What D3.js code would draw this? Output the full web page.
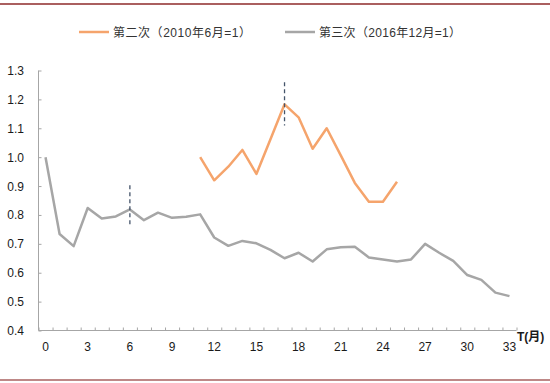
<!DOCTYPE html>
<html>
<head>
<meta charset="utf-8">
<script src="https://cdn.jsdelivr.net/npm/d3@7/dist/d3.min.js"></script>
<style>
  html, body { margin: 0; padding: 0; background: #fff; }
  svg { display: block; }
  text { font-family: "Liberation Sans", Arial, "Noto Sans CJK SC", sans-serif; }
</style>
</head>
<body>
<svg id="chart" width="550" height="383"></svg>
<script>
// ---- data ----
const months = d3.range(0, 34);
const xTickLabels = [0, 3, 6, 9, 12, 15, 18, 21, 24, 27, 30, 33];
const yTickValues = [0.4, 0.5, 0.6, 0.7, 0.8, 0.9, 1.0, 1.1, 1.2, 1.3];

const seriesNames = ["第二次（2010年6月=1）", "第三次（2016年12月=1）"];

// second round, months 11..25
const secondStart = 11;
const secondValues = [1.00, 0.92, 0.967, 1.025, 0.942, 1.062, 1.183, 1.138, 1.029, 1.10, 1.006, 0.911, 0.846, 0.846, 0.915];

// third round, months 0..33
const thirdValues = [1.00, 0.734, 0.692, 0.824, 0.788, 0.795, 0.819, 0.782, 0.808, 0.790, 0.794, 0.802,
  0.722, 0.693, 0.710, 0.702, 0.679, 0.650, 0.669, 0.639, 0.681, 0.688, 0.690, 0.653,
  0.646, 0.639, 0.646, 0.700, 0.669, 0.641, 0.592, 0.575, 0.531, 0.519];

// dashed marker lines: month, low value, high value
const markerMonths = [6, 17];
const markerLow = [0.757, 1.11];
const markerHigh = [0.903, 1.259];

// ---- drawing ----
const svg = d3.select("#chart");
const colors = ["#F5A46C", "#A6A6A6"];

const x = d3.scaleLinear().domain([-0.5, 33.5]).range([38.5, 516.5]);
const y = d3.scaleLinear().domain([0.4, 1.3]).range([330.5, 70.5]);

// frame lines
svg.append("line").attr("x1", 0).attr("x2", 550).attr("y1", 4).attr("y2", 4)
  .attr("stroke", "#8E2A2A").attr("stroke-width", 1.6);
svg.append("line").attr("x1", 0).attr("x2", 550).attr("y1", 380).attr("y2", 380)
  .attr("stroke", "#A8615F").attr("stroke-width", 1.6);

// y axis
const yAxis = d3.axisRight(y).tickValues(yTickValues).tickSize(3).tickFormat("");
const gy = svg.append("g").attr("transform", "translate(38.5,0)").call(yAxis);
gy.select(".domain").attr("stroke", "#A6A6A6").attr("d", `M0,${y(1.3)}V${y(0.4)}`);
gy.selectAll(".tick line").attr("stroke", "#A6A6A6");

svg.append("g").selectAll("text").data(yTickValues).join("text")
  .attr("x", 24).attr("y", d => y(d) + 4.5)
  .attr("text-anchor", "end").attr("font-size", 12).attr("fill", "#1a1a1a")
  .text(d => d3.format(".1f")(d));

// x axis (ticks between categories)
const boundaries = d3.range(-0.5, 34, 1);
const xAxis = d3.axisTop(x).tickValues(boundaries).tickSize(3).tickFormat("");
const gx = svg.append("g").attr("transform", `translate(0,${y(0.4)})`).call(xAxis);
gx.select(".domain").attr("stroke", "#A6A6A6").attr("d", `M${x(-0.5)},0H${x(33.5)}`);
gx.selectAll(".tick line").attr("stroke", "#A6A6A6");

svg.append("g").selectAll("text").data(xTickLabels).join("text")
  .attr("x", d => x(d)).attr("y", 351)
  .attr("text-anchor", "middle").attr("font-size", 12).attr("fill", "#1a1a1a")
  .text(d => d);

svg.append("text").attr("x", 517).attr("y", 341)
  .attr("font-size", 12).attr("font-weight", "bold").attr("fill", "#1a1a1a")
  .text("T(月)");

// lines
const line = d3.line().x(d => x(d[0])).y(d => y(d[1]));
const thirdData = thirdValues.map((v, i) => [months[i], v]);
const secondData = secondValues.map((v, i) => [secondStart + i, v]);

svg.append("path").datum(thirdData).attr("d", line)
  .attr("fill", "none").attr("stroke", colors[1]).attr("stroke-width", 2.5)
  .attr("stroke-linejoin", "round");
svg.append("path").datum(secondData).attr("d", line)
  .attr("fill", "none").attr("stroke", colors[0]).attr("stroke-width", 2.5)
  .attr("stroke-linejoin", "round");

// dashed markers
svg.append("g").selectAll("line").data(markerMonths).join("line")
  .attr("x1", d => x(d)).attr("x2", d => x(d))
  .attr("y1", (d, i) => y(markerHigh[i])).attr("y2", (d, i) => y(markerLow[i]))
  .attr("stroke", "#44546A").attr("stroke-width", 1.3).attr("stroke-dasharray", "4,3");

// legend
const legendX = [79, 285];
const legendTextLen = [138, 142];
const lg = svg.append("g").selectAll("g").data(seriesNames).join("g")
  .attr("transform", (d, i) => `translate(${legendX[i]},32)`);
lg.append("line").attr("x1", 0).attr("x2", 30).attr("y1", 0).attr("y2", 0)
  .attr("stroke", (d, i) => colors[i]).attr("stroke-width", 2.5);
lg.append("text").attr("x", 34).attr("y", 4.5)
  .attr("font-size", 12).attr("fill", "#333")
  .attr("textLength", (d, i) => legendTextLen[i]).attr("lengthAdjust", "spacing")
  .text(d => d);
</script>
</body>
</html>
